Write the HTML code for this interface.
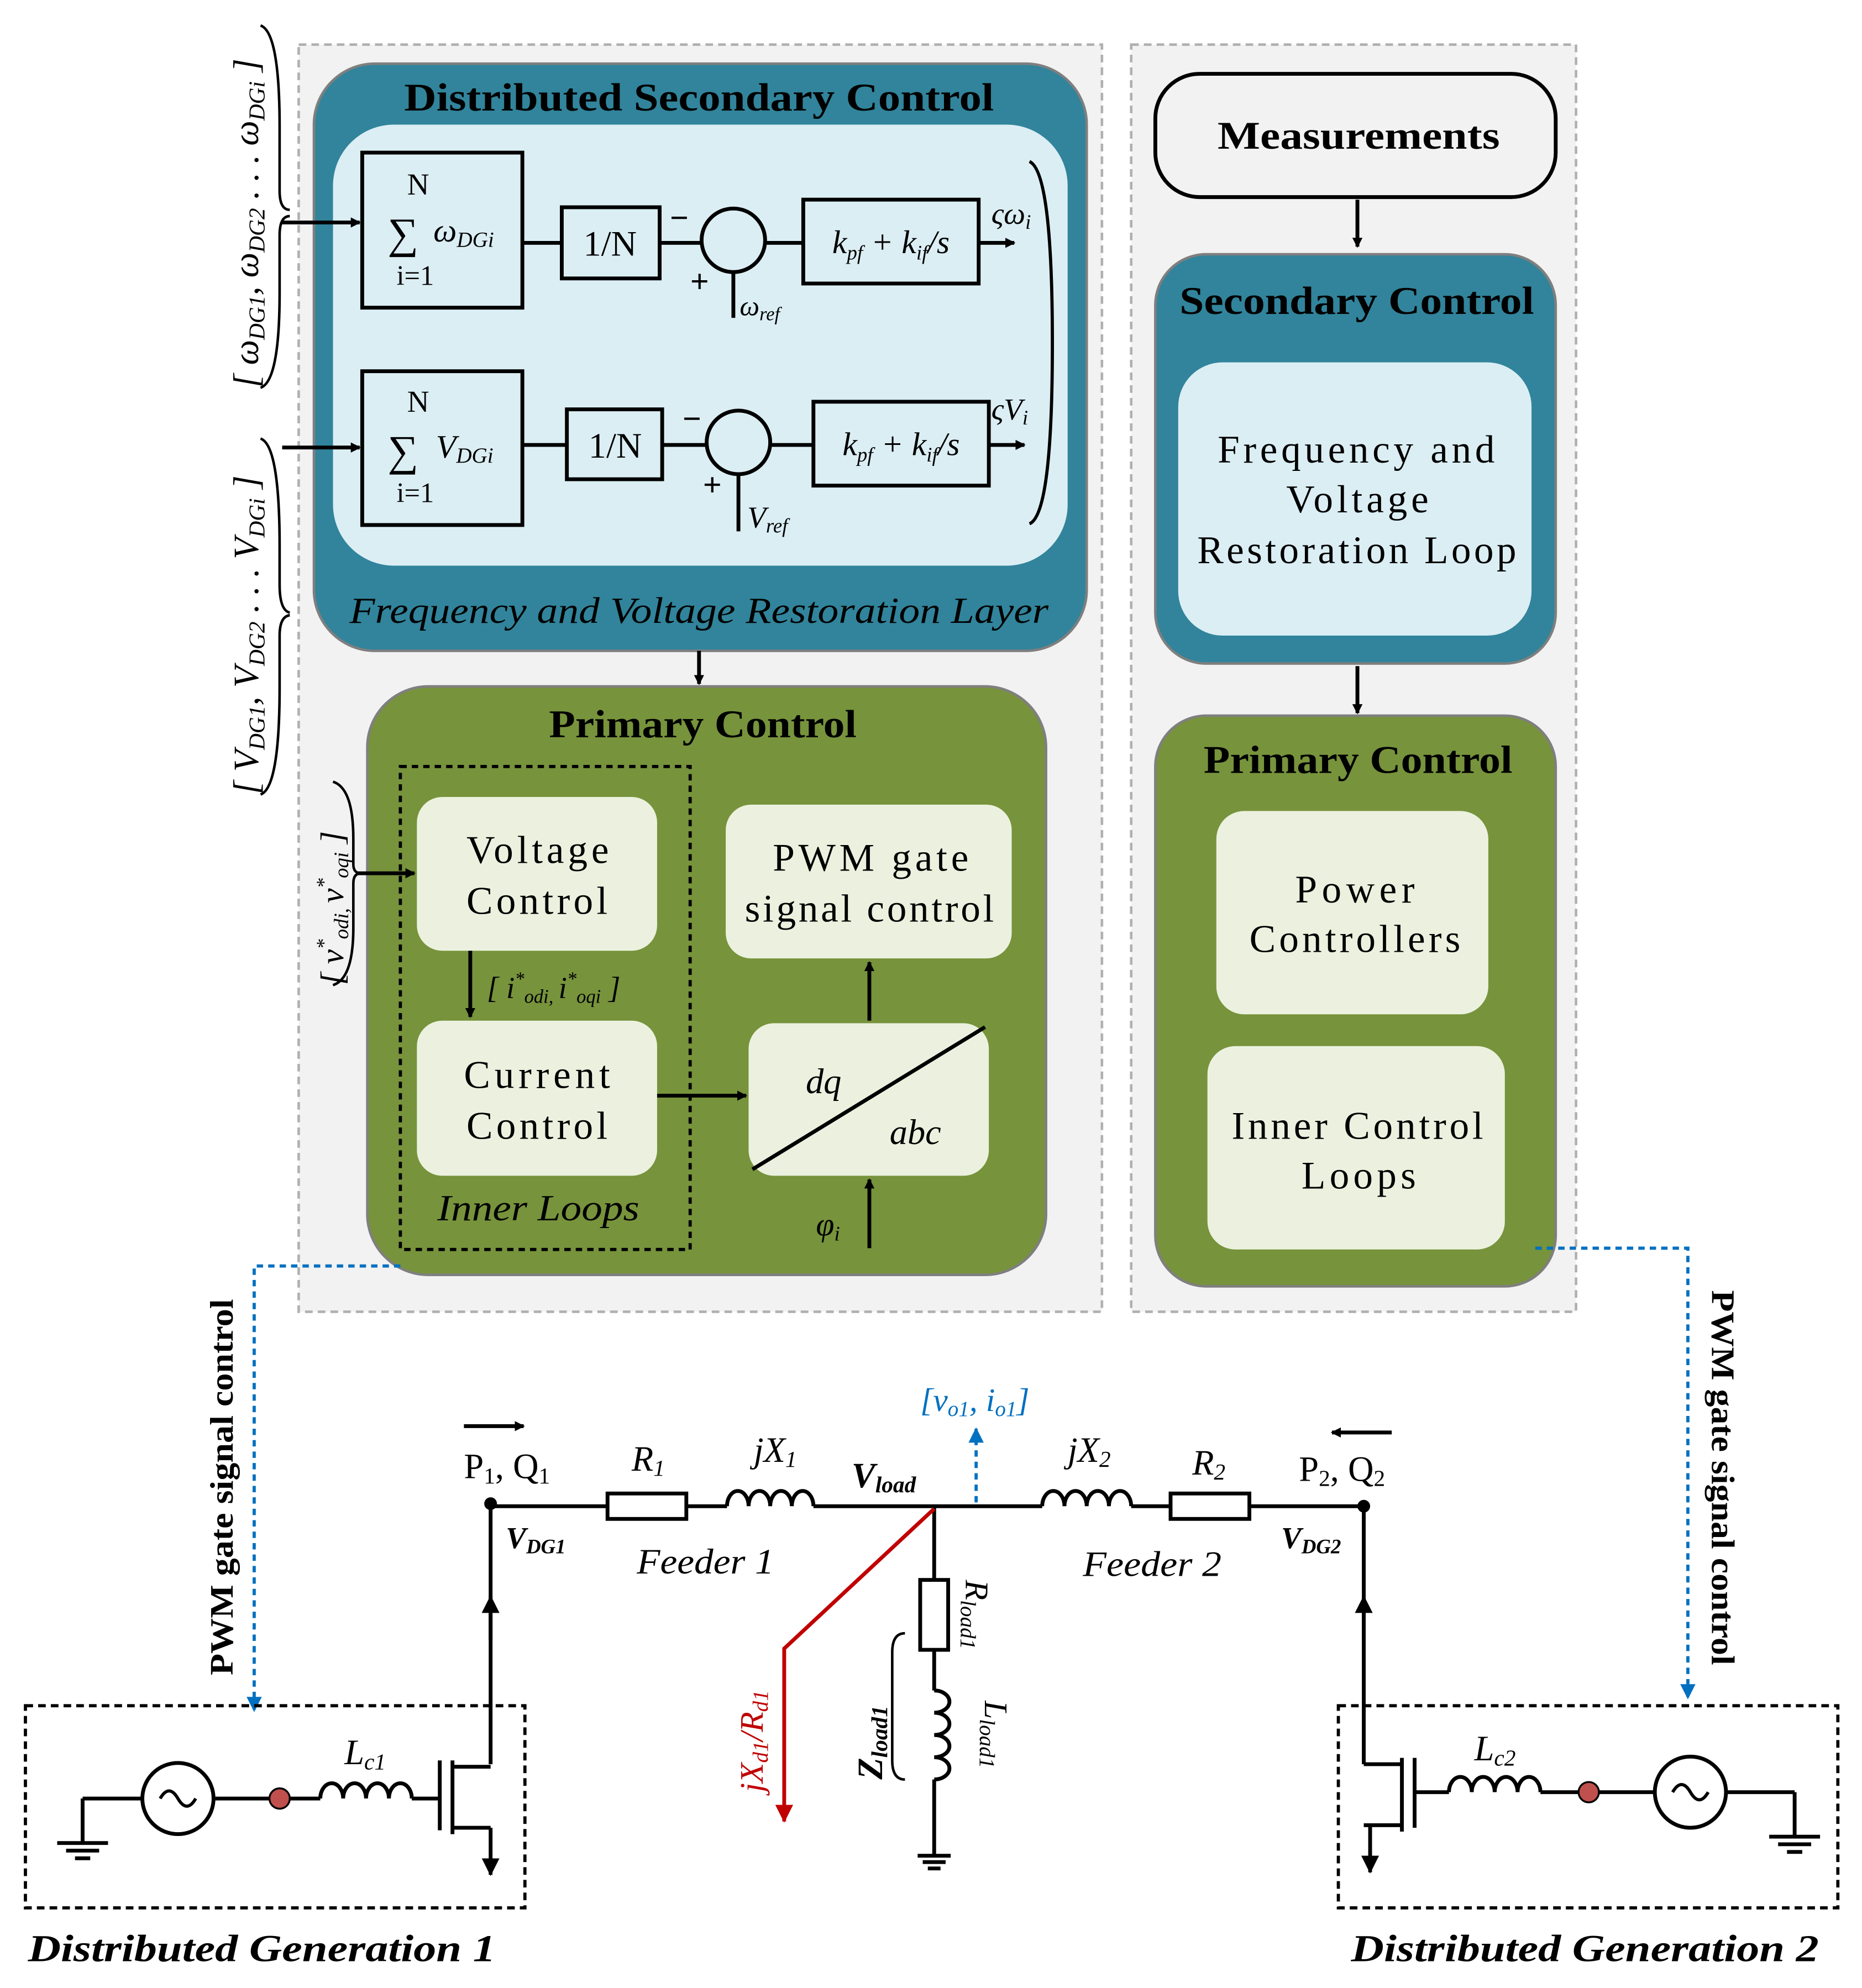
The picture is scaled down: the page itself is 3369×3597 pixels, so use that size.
<!DOCTYPE html>
<html><head><meta charset="utf-8"><style>
html,body{margin:0;padding:0;background:#fff}
svg{display:block}
text{font-family:"Liberation Serif",serif}
</style></head><body>
<svg width="3369" height="3597" viewBox="0 0 1465 1564" xmlns="http://www.w3.org/2000/svg">
<defs>
<marker id="ar" markerWidth="8" markerHeight="8" refX="7" refY="4" orient="auto" markerUnits="userSpaceOnUse"><path d="M0,0 L8,4 L0,8 Z" fill="#000"/></marker>
<marker id="arb" markerWidth="12" markerHeight="12" refX="11" refY="6" orient="auto" markerUnits="userSpaceOnUse"><path d="M0,0 L12,6 L0,12 Z" fill="#0070c0"/></marker>
<marker id="arr" markerWidth="14" markerHeight="14" refX="13" refY="7" orient="auto" markerUnits="userSpaceOnUse"><path d="M0,0 L14,7 L0,14 Z" fill="#c00000"/></marker>
<marker id="ak" markerWidth="14" markerHeight="14" refX="13" refY="7" orient="auto" markerUnits="userSpaceOnUse"><path d="M0,0 L14,7 L0,14 Z" fill="#000"/></marker>
</defs>
<rect width="1465" height="1564" fill="#fff"/>
<rect x="235" y="35" width="632" height="997" fill="#f2f2f2" stroke="#b0b0b0" stroke-width="2" stroke-dasharray="6,4"/>
<rect x="890" y="35" width="350" height="997" fill="#f2f2f2" stroke="#b0b0b0" stroke-width="2" stroke-dasharray="6,4"/>

<rect x="247" y="50" width="608" height="462" rx="48" fill="#31849b" stroke="#7f7f7f" stroke-width="2"/>
<text x="318" y="87" font-size="31" font-weight="bold" textLength="464" lengthAdjust="spacingAndGlyphs">Distributed Secondary Control</text>
<rect x="262" y="98" width="578" height="347" rx="48" fill="#dbeef4"/>
<text x="275" y="490" font-size="29" font-style="italic" textLength="550" lengthAdjust="spacingAndGlyphs">Frequency and Voltage Restoration Layer</text>

<g stroke="#000" stroke-width="3" fill="none">
<rect x="285" y="120" width="126" height="122"/>
<rect x="442" y="163" width="77" height="56"/>
<circle cx="577" cy="189" r="25"/>
<rect x="632" y="157" width="138" height="66"/>
<line x1="411" y1="191" x2="442" y2="191"/><line x1="519" y1="191" x2="552" y2="191"/><line x1="602" y1="191" x2="632" y2="191"/>
<line x1="577" y1="214" x2="577" y2="250"/>
<line x1="770" y1="191" x2="798" y2="191" marker-end="url(#ar)"/>
<rect x="285" y="292" width="126" height="121"/>
<rect x="446" y="322" width="75" height="55"/>
<circle cx="581" cy="348" r="25"/>
<rect x="640" y="316" width="138" height="66"/>
<line x1="411" y1="350" x2="446" y2="350"/><line x1="521" y1="350" x2="556" y2="350"/><line x1="606" y1="350" x2="640" y2="350"/>
<line x1="581" y1="373" x2="581" y2="418"/>
<line x1="778" y1="350" x2="806" y2="350" marker-end="url(#ar)"/>
<path d="M810,127 Q828,135 828,270 Q828,405 810,412" stroke-width="2.5"/>
<line x1="222" y1="175" x2="283" y2="175" marker-end="url(#ar)"/>
<line x1="222" y1="352" x2="283" y2="352" marker-end="url(#ar)"/>
<path d="M205,20 Q220,25 220,100 L220,150 Q220,165 228,165" stroke-width="2"/>
<path d="M205,305 Q220,300 220,230 L220,185 Q220,170 228,170" stroke-width="2"/>
<path d="M205,345 Q220,350 220,430 L220,460 Q220,480 228,482" stroke-width="2"/>
<path d="M205,625 Q220,620 220,540 L220,500 Q220,485 228,484" stroke-width="2"/>
</g>
<g font-style="italic" font-size="26">
<text x="329" y="153" text-anchor="middle" font-style="normal" font-size="24">N</text>
<text x="305" y="195" font-style="normal" font-size="34">∑</text>
<text x="341" y="190">ω<tspan font-size="17" dy="4">DGi</tspan></text>
<text x="312" y="224" font-style="normal" font-size="22">i=1</text>
<text x="480" y="201" text-anchor="middle" font-style="normal" font-size="28">1/N</text>
<text x="527" y="180" font-style="normal" font-size="26" font-weight="bold">−</text>
<text x="543" y="230" font-style="normal" font-size="26" font-weight="bold">+</text>
<text x="582" y="248" font-size="22">ω<tspan font-size="15" dy="4">ref</tspan></text>
<text x="701" y="199" text-anchor="middle">k<tspan font-size="16" dy="5">pf</tspan><tspan dy="-5"> + k</tspan><tspan font-size="16" dy="5">if</tspan><tspan dy="-5">/s</tspan></text>
<text x="780" y="176" font-size="24">ςω<tspan font-size="16" dy="4">i</tspan></text>
<text x="329" y="324" text-anchor="middle" font-style="normal" font-size="24">N</text>
<text x="305" y="366" font-style="normal" font-size="34">∑</text>
<text x="343" y="360">V<tspan font-size="17" dy="4">DGi</tspan></text>
<text x="312" y="395" font-style="normal" font-size="22">i=1</text>
<text x="484" y="360" text-anchor="middle" font-style="normal" font-size="28">1/N</text>
<text x="537" y="338" font-style="normal" font-size="26" font-weight="bold">−</text>
<text x="553" y="390" font-style="normal" font-size="26" font-weight="bold">+</text>
<text x="588" y="415" font-size="24">V<tspan font-size="16" dy="4">ref</tspan></text>
<text x="709" y="358" text-anchor="middle">k<tspan font-size="16" dy="5">pf</tspan><tspan dy="-5"> + k</tspan><tspan font-size="16" dy="5">if</tspan><tspan dy="-5">/s</tspan></text>
<text x="780" y="330" font-size="24">ςV<tspan font-size="16" dy="4">i</tspan></text>
</g>
<text transform="translate(203,305) rotate(-90)" font-size="28" font-style="italic">[ ω<tspan font-size="18" dy="5">DG1</tspan><tspan dy="-5">, ω</tspan><tspan font-size="18" dy="5">DG2</tspan><tspan dy="-5"> . . . ω</tspan><tspan font-size="18" dy="5">DGi</tspan><tspan dy="-5"> ]</tspan></text>
<text transform="translate(203,625) rotate(-90)" font-size="28" font-style="italic">[ V<tspan font-size="18" dy="5">DG1</tspan><tspan dy="-5">, V</tspan><tspan font-size="18" dy="5">DG2</tspan><tspan dy="-5"> . . . V</tspan><tspan font-size="18" dy="5">DGi</tspan><tspan dy="-5"> ]</tspan></text>

<line x1="550" y1="512" x2="550" y2="538" stroke="#000" stroke-width="3" marker-end="url(#ar)"/>

<rect x="289" y="540" width="534" height="463" rx="48" fill="#77933c" stroke="#7f7f7f" stroke-width="2"/>
<text x="432" y="580" font-size="31" font-weight="bold" textLength="242" lengthAdjust="spacingAndGlyphs">Primary Control</text>
<rect x="315" y="603" width="228" height="380" fill="none" stroke="#000" stroke-width="2.5" stroke-dasharray="5,4"/>
<rect x="328" y="627" width="189" height="121" rx="20" fill="#ebf1de"/>
<rect x="328" y="803" width="189" height="122" rx="20" fill="#ebf1de"/>
<rect x="571" y="633" width="225" height="121" rx="20" fill="#ebf1de"/>
<rect x="589" y="805" width="189" height="120" rx="20" fill="#ebf1de"/>
<g font-size="31" lengthAdjust="spacingAndGlyphs">
<text x="367" y="679" textLength="112">Voltage</text><text x="367" y="719" textLength="111">Control</text>
<text x="365" y="856" textLength="115">Current</text><text x="367" y="896" textLength="111">Control</text>
<text x="608" y="685" textLength="154">PWM gate</text><text x="586" y="725" textLength="196">signal control</text>
</g>
<text x="344" y="960" font-size="29" font-style="italic" textLength="159" lengthAdjust="spacingAndGlyphs">Inner Loops</text>
<g stroke="#000" stroke-width="3">
<line x1="592" y1="920" x2="775" y2="808"/>
<line x1="684" y1="803" x2="684" y2="757" marker-end="url(#ar)"/>
<line x1="517" y1="862" x2="587" y2="862" marker-end="url(#ar)"/>
<line x1="684" y1="982" x2="684" y2="928" marker-end="url(#ar)"/>
<line x1="370" y1="748" x2="370" y2="800" marker-end="url(#ar)"/>
<line x1="280" y1="687" x2="326" y2="687" marker-end="url(#ar)"/>
<path d="M262,615 Q278,620 278,660 L278,680 Q278,687 284,687" fill="none" stroke-width="2"/>
<path d="M262,775 Q278,770 278,730 L278,695 Q278,687 284,687" fill="none" stroke-width="2"/>
</g>
<g font-style="italic">
<text x="634" y="860" font-size="28">dq</text>
<text x="700" y="900" font-size="28">abc</text>
<text x="642" y="972" font-size="26">φ<tspan font-size="16" dy="4">i</tspan></text>
<text x="383" y="785" font-size="24">[ i<tspan font-size="15" dy="-10">*</tspan><tspan font-size="15" dy="14">odi,</tspan><tspan dx="4" dy="-4">i</tspan><tspan font-size="15" dy="-10">*</tspan><tspan font-size="15" dy="14">oqi</tspan><tspan dy="-4"> ]</tspan></text>
<text transform="translate(270,775) rotate(-90)" font-size="26">[ v<tspan font-size="16" dy="-10">*</tspan><tspan font-size="16" dy="14">odi,</tspan><tspan dx="4" dy="-4">v</tspan><tspan font-size="16" dy="-10">*</tspan><tspan font-size="16" dy="14">oqi</tspan><tspan dy="-4"> ]</tspan></text>
</g>

<rect x="909" y="58" width="315" height="97" rx="35" fill="#f2f2f2" stroke="#000" stroke-width="3"/>
<text x="958" y="117" font-size="31" font-weight="bold" textLength="222" lengthAdjust="spacingAndGlyphs">Measurements</text>
<line x1="1068" y1="157" x2="1068" y2="194" stroke="#000" stroke-width="3" marker-end="url(#ar)"/>
<rect x="909" y="200" width="315" height="322" rx="40" fill="#31849b" stroke="#7f7f7f" stroke-width="2"/>
<text x="928" y="247" font-size="31" font-weight="bold" textLength="279" lengthAdjust="spacingAndGlyphs">Secondary Control</text>
<rect x="927" y="285" width="278" height="215" rx="35" fill="#dbeef4"/>
<g font-size="31" lengthAdjust="spacingAndGlyphs">
<text x="958" y="364" textLength="218">Frequency and</text><text x="1012" y="403" textLength="112">Voltage</text><text x="942" y="443" textLength="251">Restoration Loop</text>
</g>
<line x1="1068" y1="524" x2="1068" y2="561" stroke="#000" stroke-width="3" marker-end="url(#ar)"/>
<rect x="909" y="563" width="315" height="449" rx="40" fill="#77933c" stroke="#7f7f7f" stroke-width="2"/>
<text x="947" y="608" font-size="31" font-weight="bold" textLength="243" lengthAdjust="spacingAndGlyphs">Primary Control</text>
<rect x="957" y="638" width="214" height="160" rx="22" fill="#ebf1de"/>
<rect x="950" y="823" width="234" height="160" rx="22" fill="#ebf1de"/>
<g font-size="31" lengthAdjust="spacingAndGlyphs">
<text x="1019" y="710" textLength="94">Power</text><text x="983" y="749" textLength="166">Controllers</text>
<text x="969" y="896" textLength="198">Inner Control</text><text x="1024" y="935" textLength="90">Loops</text>
</g>

<g stroke="#0070c0" stroke-width="2.5" fill="none" stroke-dasharray="5,4">
<path d="M315,996 L200,996 L200,1346" marker-end="url(#arb)"/>
<path d="M1208,982 L1328,982 L1328,1336" marker-end="url(#arb)"/>
<path d="M768,1182 L768,1124" marker-end="url(#arb)"/>
</g>
<text transform="translate(183,1318) rotate(-90)" font-size="26" font-weight="bold" textLength="296" lengthAdjust="spacingAndGlyphs">PWM gate signal control</text>
<text transform="translate(1347,1015) rotate(90)" font-size="26" font-weight="bold" textLength="295" lengthAdjust="spacingAndGlyphs">PWM gate signal control</text>
<text x="724" y="1110" font-size="26" font-style="italic" fill="#0070c0">[v<tspan font-size="17" dy="4">o1</tspan><tspan dy="-4">, i</tspan><tspan font-size="17" dy="4">o1</tspan><tspan dy="-4">]</tspan></text>

<rect x="20" y="1342" width="393" height="159" fill="none" stroke="#000" stroke-width="2.5" stroke-dasharray="6,4"/>
<rect x="1053" y="1342" width="393" height="159" fill="none" stroke="#000" stroke-width="2.5" stroke-dasharray="6,4"/>
<text x="22" y="1543" font-size="30" font-weight="bold" font-style="italic" textLength="368" lengthAdjust="spacingAndGlyphs">Distributed Generation 1</text>
<text x="1063" y="1543" font-size="30" font-weight="bold" font-style="italic" textLength="368" lengthAdjust="spacingAndGlyphs">Distributed Generation 2</text>

<g stroke="#000" stroke-width="3" fill="none">
<line x1="386" y1="1185" x2="478" y2="1185"/>
<rect x="478" y="1175" width="62" height="20" fill="#fff"/>
<line x1="540" y1="1185" x2="572" y2="1185"/>
<path d="M572,1185 a8.5,12 0 1 1 17,0 a8.5,12 0 1 1 17,0 a8.5,12 0 1 1 17,0 a8.5,12 0 1 1 17,0"/>
<line x1="640" y1="1185" x2="820" y2="1185"/>
<path d="M820,1185 a8.75,12 0 1 1 17.5,0 a8.75,12 0 1 1 17.5,0 a8.75,12 0 1 1 17.5,0 a8.75,12 0 1 1 17.5,0"/>
<line x1="890" y1="1185" x2="921" y2="1185"/>
<rect x="921" y="1175" width="62" height="20" fill="#fff"/>
<line x1="983" y1="1185" x2="1073" y2="1185"/>
<line x1="735" y1="1185" x2="735" y2="1243"/>
<rect x="724" y="1243" width="22" height="55" fill="#fff"/>
<line x1="735" y1="1298" x2="735" y2="1330"/>
<path d="M735,1330 a12,8.75 0 1 1 0,17.5 a12,8.75 0 1 1 0,17.5 a12,8.75 0 1 1 0,17.5 a12,8.75 0 1 1 0,17.5"/>
<line x1="735" y1="1400" x2="735" y2="1460"/>
<line x1="722" y1="1460" x2="748" y2="1460"/><line x1="726" y1="1465" x2="744" y2="1465"/><line x1="730" y1="1470" x2="740" y2="1470"/>
<path d="M712,1285 Q702,1285 702,1300 L702,1385 Q702,1400 712,1400" stroke-width="2"/>
<line x1="386" y1="1185" x2="386" y2="1388"/>
<line x1="386" y1="1290" x2="386" y2="1256" marker-end="url(#ak)"/>
<line x1="65" y1="1415" x2="112" y2="1415"/>
<line x1="65" y1="1415" x2="65" y2="1450"/>
<line x1="45" y1="1450" x2="85" y2="1450"/><line x1="52" y1="1456" x2="78" y2="1456"/><line x1="59" y1="1462" x2="71" y2="1462"/>
<circle cx="140" cy="1415" r="28"/>
<path d="M126,1415 q7,-12 14,0 q7,12 14,0" stroke-width="2.5"/>
<line x1="168" y1="1415" x2="252" y2="1415"/>
<path d="M252,1415 a9,12 0 1 1 18,0 a9,12 0 1 1 18,0 a9,12 0 1 1 18,0 a9,12 0 1 1 18,0"/>
<line x1="324" y1="1415" x2="346" y2="1415"/>
<line x1="346" y1="1385" x2="346" y2="1440"/>
<line x1="356" y1="1385" x2="356" y2="1443"/>
<line x1="356" y1="1390" x2="386" y2="1390"/>
<line x1="356" y1="1438" x2="386" y2="1438"/>
<line x1="386" y1="1438" x2="386" y2="1475" marker-end="url(#ak)"/>
<line x1="1073" y1="1185" x2="1073" y2="1388"/>
<line x1="1073" y1="1290" x2="1073" y2="1256" marker-end="url(#ak)"/>
<line x1="1073" y1="1388" x2="1103" y2="1388"/>
<line x1="1103" y1="1383" x2="1103" y2="1441"/>
<line x1="1113" y1="1383" x2="1113" y2="1438"/>
<line x1="1073" y1="1436" x2="1103" y2="1436"/>
<line x1="1078" y1="1436" x2="1078" y2="1473" marker-end="url(#ak)"/>
<line x1="1113" y1="1410" x2="1140" y2="1410"/>
<path d="M1140,1410 a9,12 0 1 1 18,0 a9,12 0 1 1 18,0 a9,12 0 1 1 18,0 a9,12 0 1 1 18,0"/>
<line x1="1212" y1="1410" x2="1302" y2="1410"/>
<circle cx="1330" cy="1410" r="28"/>
<path d="M1316,1410 q7,-12 14,0 q7,12 14,0" stroke-width="2.5"/>
<line x1="1358" y1="1410" x2="1412" y2="1410"/>
<line x1="1412" y1="1410" x2="1412" y2="1445"/>
<line x1="1392" y1="1445" x2="1432" y2="1445"/><line x1="1399" y1="1451" x2="1425" y2="1451"/><line x1="1406" y1="1457" x2="1418" y2="1457"/>
<line x1="365" y1="1122" x2="412" y2="1122" marker-end="url(#ar)"/>
<line x1="1095" y1="1127" x2="1048" y2="1127" marker-end="url(#ar)"/>
</g>
<polyline points="735,1187 617,1297 617,1433" fill="none" stroke="#c00000" stroke-width="3" marker-end="url(#arr)"/>
<circle cx="386" cy="1183" r="5" fill="#000"/>
<circle cx="1073" cy="1185" r="5" fill="#000"/>
<circle cx="220" cy="1415" r="8" fill="#c0504d" stroke="#000" stroke-width="1.5"/>
<circle cx="1250" cy="1410" r="8" fill="#c0504d" stroke="#000" stroke-width="1.5"/>

<g font-size="28">
<text x="365" y="1163">P<tspan font-size="18" dy="4">1</tspan><tspan dy="-4">, Q</tspan><tspan font-size="18" dy="4">1</tspan></text>
<text x="1022" y="1165">P<tspan font-size="18" dy="4">2</tspan><tspan dy="-4">, Q</tspan><tspan font-size="18" dy="4">2</tspan></text>
<text x="497" y="1157" font-style="italic">R<tspan font-size="18" dy="4">1</tspan></text>
<text x="593" y="1150" font-style="italic">jX<tspan font-size="18" dy="4">1</tspan></text>
<text x="840" y="1150" font-style="italic">jX<tspan font-size="18" dy="4">2</tspan></text>
<text x="938" y="1160" font-style="italic">R<tspan font-size="18" dy="4">2</tspan></text>
<text x="670" y="1170" font-weight="bold" font-style="italic">V<tspan font-size="18" dy="4">load</tspan></text>
<text x="398" y="1218" font-weight="bold" font-style="italic" font-size="24">V<tspan font-size="16" dy="4">DG1</tspan></text>
<text x="1008" y="1218" font-weight="bold" font-style="italic" font-size="24">V<tspan font-size="16" dy="4">DG2</tspan></text>
<text x="501" y="1238" font-style="italic" textLength="108" lengthAdjust="spacingAndGlyphs">Feeder 1</text>
<text x="852" y="1240" font-style="italic" textLength="109" lengthAdjust="spacingAndGlyphs">Feeder 2</text>
<text x="271" y="1388" font-style="italic">L<tspan font-size="18" dy="4">c1</tspan></text>
<text x="1160" y="1385" font-style="italic">L<tspan font-size="18" dy="4">c2</tspan></text>
</g>
<text transform="translate(760,1243) rotate(90)" font-size="26" font-style="italic">R<tspan font-size="17" dy="4">load1</tspan></text>
<text transform="translate(775,1338) rotate(90)" font-size="26" font-style="italic">L<tspan font-size="17" dy="4">load1</tspan></text>
<text transform="translate(694,1400) rotate(-90)" font-size="28" font-weight="bold" font-style="italic">Z<tspan font-size="18" dy="4">load1</tspan></text>
<text transform="translate(600,1410) rotate(-90)" font-size="26" font-style="italic" fill="#c00000">jX<tspan font-size="17" dy="4">d1</tspan><tspan dy="-4">/R</tspan><tspan font-size="17" dy="4">d1</tspan></text>
</svg>
</body></html>
